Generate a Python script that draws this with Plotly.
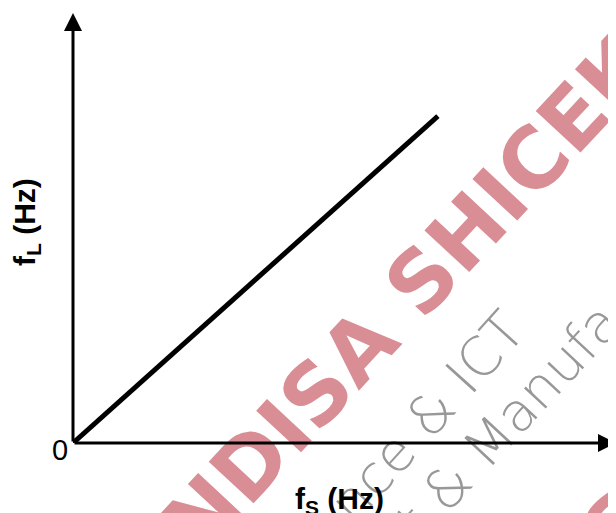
import plotly.graph_objects as go

#%% data
fs_hz = [0, 6.72]          # source frequency (arbitrary units)
fl_hz = [0, 7.60]          # load frequency
x_title = '<b>f<sub>S</sub> (Hz)</b>'
y_title = '<b>f<sub>L</sub> (Hz)</b>'
origin_label = '0'
wm_name = 'ANDISA SHICEKA'
wm_line1 = 'Science & ICT'
wm_line2 = 'Environment & Manufacturing'

#%% plot
PINK = 'rgb(217,142,149)'
GREY = 'rgb(152,152,152)'
fig = go.Figure()
fig.add_trace(
    go.Scatter(
        x=fs_hz,
        y=fl_hz,
        mode='lines',
        line=dict(color='black', width=5),
        showlegend=False,
        hoverinfo='skip',
        )
    )

annotations = []
# watermark first (paper coords, they run off the figure), so the axes sit on top
wm = [
    (0.617, 0.345, wm_name, -47, 84, PINK, 'bold'),
    (0.980, -0.228, wm_name, -47, 84, PINK, 'bold'),
    (0.584, -0.037, wm_line1, -48, 54, GREY, 200),
    (0.718, -0.065, wm_line2, -47, 54, GREY, 200),
]
for x, y, txt, ang, size, col, weight in wm:
    annotations.append(dict(x=x, y=y, xref='paper', yref='paper', xanchor='center', yanchor='middle',
                            text=txt, showarrow=False, textangle=ang,
                            font=dict(family='DejaVu Sans', size=size, color=col, weight=weight)))
# axes with arrow heads
for tip in [(10, 0), (0, 10)]:
    annotations.append(dict(x=tip[0], y=tip[1], ax=0, ay=0, axref='x', ayref='y', text='',
                            showarrow=True, arrowhead=2, arrowsize=1.2, arrowwidth=3,
                            arrowcolor='black', standoff=0))
annotations.append(dict(x=0, y=0, text=origin_label, showarrow=False, xanchor='right',
                        yanchor='middle', xshift=-3, yshift=-7,
                        font=dict(family='Liberation Sans', size=29, color='black')))
annotations.append(dict(x=4.9, y=0, text=x_title, showarrow=False, yanchor='middle', yshift=-57,
                        font=dict(family='Liberation Sans', size=30, color='black')))
annotations.append(dict(x=0, y=5.14, text=y_title, showarrow=False, textangle=-90,
                        xanchor='center', yanchor='middle', xshift=-46,
                        font=dict(family='Liberation Sans', size=30, color='black')))

# the page body adds 8px on top/left, so the figure is 8px smaller
fig.update_layout(
    width=608,
    height=505,
    margin=dict(l=65, r=0, t=5, b=70),
    paper_bgcolor='white',
    plot_bgcolor='white',
    annotations=annotations,
    hovermode=False,
    )
fig.layout.xaxis.update({'range': [0, 10], 'visible': False, 'fixedrange': True})
fig.layout.yaxis.update({'range': [0, 10], 'visible': False, 'fixedrange': True})
fig.write_html('out.html')
